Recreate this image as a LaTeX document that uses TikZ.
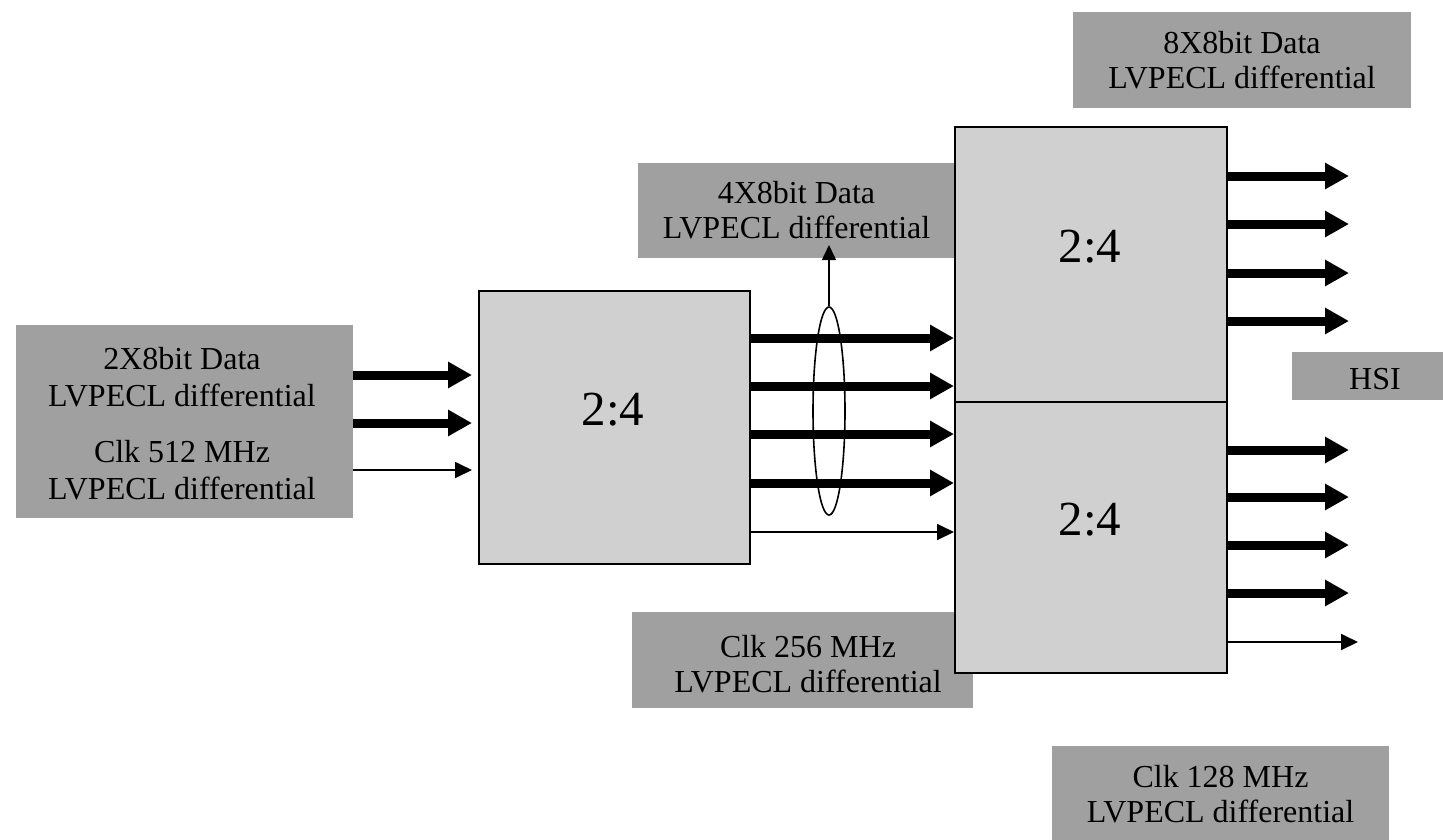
\documentclass[tikz,border=0pt]{standalone}
\usepackage{fontspec}
\setmainfont{Liberation Serif}
\usetikzlibrary{arrows.meta,shapes.geometric}
\definecolor{darkfill}{RGB}{160,160,160}
\definecolor{lightfill}{RGB}{208,208,208}
\tikzset{
  labelbox/.style={fill=darkfill, draw=none, inner sep=0pt, align=center,
    font=\fontsize{32}{35}\selectfont},
  muxbox/.style={fill=lightfill, draw=black, line width=2pt, inner sep=0pt},
  muxtext/.style={inner sep=0pt, font=\fontsize{49}{52}\selectfont},
  txt/.style={inner sep=0pt, align=center, font=\fontsize{32}{35}\selectfont},
  busarrow/.style={line width=9pt, -{Triangle[length=24pt,width=25pt]}},
  sigarrow/.style={line width=1.8pt, -{Triangle[length=17pt,width=16pt]}},
}
\begin{document}
\begin{tikzpicture}[x=1pt,y=-1pt]
\useasboundingbox (0,0) rectangle (1443,839);
% label boxes
\node[labelbox, minimum width=337pt, minimum height=193pt] (lbox) at (184.5,421.5) {};
\node[txt] (ltxt) at (182,423.5) {2X8bit Data\\[2pt]LVPECL differential\\[21pt]Clk 512 MHz\\[2pt]LVPECL differential};
\node[labelbox, minimum width=317pt, minimum height=95pt] (c4) at (796.5,210.5) {4X8bit Data\\LVPECL differential};
\node[labelbox, minimum width=338pt, minimum height=96pt] (c8) at (1242,60) {8X8bit Data\\LVPECL differential};
\node[labelbox, minimum width=341pt, minimum height=96pt] (k256box) at (802.5,660) {};
\node[txt] (k256) at (808,664) {Clk 256 MHz\\LVPECL differential};
\node[labelbox, minimum width=151pt, minimum height=48pt] (hsibox) at (1367.5,376) {};
\node[txt] (hsi) at (1375,379) {HSI};
\node[labelbox, minimum width=337pt, minimum height=96pt] (k128) at (1220.5,794) {Clk 128 MHz\\LVPECL differential};
% mux boxes
\node[muxbox, minimum width=271pt, minimum height=273pt] (mbox) at (614.5,427.5) {};
\node[muxtext] (mtxt) at (613,410) {2:4};
\node[muxbox, minimum width=272pt, minimum height=275pt] (rup) at (1091,264.5) {};
\node[muxtext] (rutxt) at (1090,247) {2:4};
\node[muxbox, minimum width=272pt, minimum height=271pt] (rlo) at (1091,537.5) {};
\node[muxtext] (rltxt) at (1090,520) {2:4};
% inputs to first mux
\draw[busarrow, shorten >=6pt] (lbox.east |- 0,375) -- (mbox.west |- 0,375);
\draw[busarrow, shorten >=6pt] (lbox.east |- 0,423) -- (mbox.west |- 0,423);
\draw[sigarrow, shorten >=6pt] (lbox.east |- 0,470) -- (mbox.west |- 0,470);
% outputs of first mux
\draw[busarrow] (mbox.east |- 0,338) -- (rup.west |- 0,338);
\draw[busarrow] (mbox.east |- 0,386) -- (rup.west |- 0,386);
\draw[busarrow] (mbox.east |- 0,434) -- (rlo.west |- 0,434);
\draw[busarrow] (mbox.east |- 0,483) -- (rlo.west |- 0,483);
\draw[sigarrow] (mbox.east |- 0,532) -- (rlo.west |- 0,532);
% bundle ellipse
\node[draw=black, line width=1.6pt, ellipse, minimum width=32pt, minimum height=208pt, inner sep=0pt] (ell) at (829,411) {};
\coordinate (ellup) at (829,245);
\draw[line width=1.6pt, -{Triangle[length=15pt,width=14pt]}] (ell.north) -- (ellup);
% outputs of right muxes
\foreach \yy in {176,224,273,321} {
  \draw[busarrow] (rup.east |- 0,\yy) -- ++(121,0);
}
\foreach \yy in {450,497,545,593} {
  \draw[busarrow] (rlo.east |- 0,\yy) -- ++(121,0);
}
\draw[sigarrow] (rlo.east |- 0,642) -- ++(130,0);
\end{tikzpicture}
\end{document}
